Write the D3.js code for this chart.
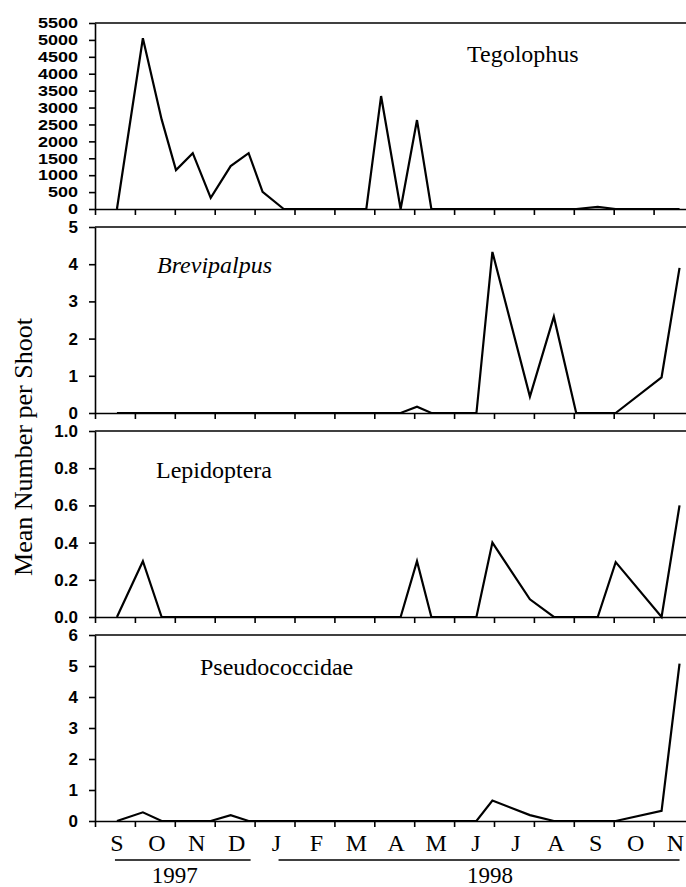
<!DOCTYPE html>
<html>
    <head>
        <meta charset="utf-8">
        <title></title>
        <style media="screen">
            body {
                margin: 0;
                background: #fff;
            }
            svg text {
                fill: #000;
            }
            svg .axis path,
            svg .axis line,
            svg .frame {
                stroke: #000;
                stroke-width: 1.6;
                fill: none;
            }
            svg .axis text {
                font-family: 'Liberation Sans', Arial, sans-serif;
                font-size: 17px;
                font-weight: bold;
            }
            svg .series {
                fill: none;
                stroke: #000;
                stroke-width: 2.2;
                stroke-linejoin: miter;
            }
            svg .serif {
                font-family: 'Liberation Serif', 'Times New Roman', serif;
            }
        </style>
    </head>
    <body>
        <svg class='drawing'></svg>

        <script src="https://cdn.jsdelivr.net/npm/d3@7/dist/d3.min.js" charset="utf-8"></script>
        <script>
            // month labels along the bottom (Sep 1997 .. Nov 1998)
            var months = ['S', 'O', 'N', 'D', 'J', 'F', 'M', 'A', 'M', 'J', 'J', 'A', 'S', 'O', 'N'];
            var years = ['1997', '1998'];

            // sampling dates, in months since 1 Sep 1997
            var sampleMonth = [0.55, 1.2, 1.67, 2.03, 2.45, 2.9, 3.4, 3.85, 4.2, 4.73,
                5.3, 5.8, 6.3, 6.8, 7.17, 7.66, 8.07, 8.43, 9.0, 9.56,
                9.96, 10.9, 11.5, 12.06, 12.6, 13.05, 14.2, 14.65];

            var tegolophus = [0, 5050, 2650, 1150, 1650, 330, 1270, 1650, 510, 0,
                0, 0, 0, 0, 3340, 0, 2630, 0, 0, 0,
                0, 0, 0, 0, 60, 0, 0, 0];
            var brevipalpus = [0, 0, 0, 0, 0, 0, 0, 0, 0, 0,
                0, 0, 0, 0, 0, 0, 0.17, 0, 0, 0,
                4.33, 0.44, 2.59, 0, 0, 0, 0.96, 3.9];
            var lepidoptera = [0, 0.30, 0, 0, 0, 0, 0, 0, 0, 0,
                0, 0, 0, 0, 0, 0, 0.30, 0, 0, 0,
                0.40, 0.095, 0, 0, 0, 0.295, 0, 0.60];
            var pseudococcidae = [0, 0.28, 0, 0, 0, 0, 0.19, 0, 0, 0,
                0, 0, 0, 0, 0, 0, 0, 0, 0, 0,
                0.66, 0.19, 0, 0, 0, 0, 0.33, 5.08];

            var tegTicks = d3.range(0, 5501, 500);
            var breTicks = [0, 1, 2, 3, 4, 5];
            var lepTicks = [0, 0.2, 0.4, 0.6, 0.8, 1.0];
            var pseTicks = [0, 1, 2, 3, 4, 5, 6];

            var w = 686;
            var h = 887;
            var left = 95;
            var panelH = 186;
            var panelStep = 204;
            var top0 = 23;

            var panels = [
                {name: 'Tegolophus', values: tegolophus, ticks: tegTicks, fmt: d3.format('d'),
                    italic: false, lx: 467, ly: 39, squeeze: true},
                {name: 'Brevipalpus', values: brevipalpus, ticks: breTicks, fmt: d3.format('d'),
                    italic: true, lx: 157, ly: 46},
                {name: 'Lepidoptera', values: lepidoptera, ticks: lepTicks, fmt: d3.format('.1f'),
                    italic: false, lx: 156, ly: 47},
                {name: 'Pseudococcidae', values: pseudococcidae, ticks: pseTicks, fmt: d3.format('d'),
                    italic: false, lx: 200, ly: 40}
            ];

            var x = d3.scaleLinear()
                .domain([0, 15])
                .range([left, left + 15 * 39.9]);

            var svg = d3.select('.drawing')
                .attr('width', w)
                .attr('height', h);

            panels.forEach(function(p, i) {
                var top = top0 + i * panelStep;
                var y = d3.scaleLinear()
                    .domain([0, d3.max(p.ticks)])
                    .range([top + panelH, top]);

                var g = svg.append('g');

                // frame top line
                g.append('line')
                    .attr('class', 'frame')
                    .attr('x1', x(0))
                    .attr('x2', x(15))
                    .attr('y1', y.range()[1])
                    .attr('y2', y.range()[1]);

                g.append('g')
                    .attr('class', 'axis')
                    .attr('transform', 'translate(0,' + (top + panelH) + ')')
                    .call(d3.axisBottom(x)
                        .tickValues(d3.range(0, 15))
                        .tickSize(6)
                        .tickSizeOuter(0)
                        .tickFormat(''));

                var yAxis = g.append('g')
                    .attr('class', 'axis')
                    .attr('transform', 'translate(' + x(0) + ',0)')
                    .call(d3.axisLeft(y)
                        .tickValues(p.ticks)
                        .tickSize(6)
                        .tickPadding(11)
                        .tickSizeOuter(0)
                        .tickFormat(p.fmt));

                // the top panel's labels sit tight: shorter glyphs, stretched wide
                if (p.squeeze) {
                    yAxis.selectAll('text')
                        .style('font-size', '15px')
                        .attr('x', -17 / 1.2)
                        .attr('transform', 'scale(1.2,1)');
                }

                var line = d3.line()
                    .x(function(d, j) { return x(sampleMonth[j]); })
                    .y(function(d) { return y(d); });

                g.append('path')
                    .datum(p.values)
                    .attr('class', 'series')
                    .attr('d', line);

                g.append('text')
                    .attr('class', 'serif')
                    .attr('x', p.lx)
                    .attr('y', top + p.ly)
                    .attr('font-size', 24)
                    .attr('font-style', p.italic ? 'italic' : 'normal')
                    .text(p.name);
            });

            // month letters
            svg.selectAll('.month')
                .data(months)
                .enter()
                    .append('text')
                    .attr('class', 'month serif')
                    .attr('x', (d, i) => x(i + 0.55))
                    .attr('y', 851)
                    .attr('text-anchor', 'middle')
                    .attr('font-size', 24)
                    .text(d => d);

            // year underlines and labels
            var yearSpans = [[0.5, 3.9, 2.0], [4.6, 14.65, 9.9]];
            yearSpans.forEach(function(s, i) {
                svg.append('line')
                    .attr('class', 'frame')
                    .attr('x1', x(s[0]))
                    .attr('x2', x(s[1]))
                    .attr('y1', 860)
                    .attr('y2', 860)
                    .attr('stroke-width', 1.4);
                svg.append('text')
                    .attr('class', 'serif')
                    .attr('x', x(s[2]))
                    .attr('y', 883)
                    .attr('text-anchor', 'middle')
                    .attr('font-size', 23)
                    .text(years[i]);
            });

            svg.append('text')
                .attr('class', 'serif')
                .attr('transform', 'translate(32,447) rotate(-90)')
                .attr('text-anchor', 'middle')
                .attr('font-size', 26)
                .text('Mean Number per Shoot');
        </script>
    </body>
</html>
